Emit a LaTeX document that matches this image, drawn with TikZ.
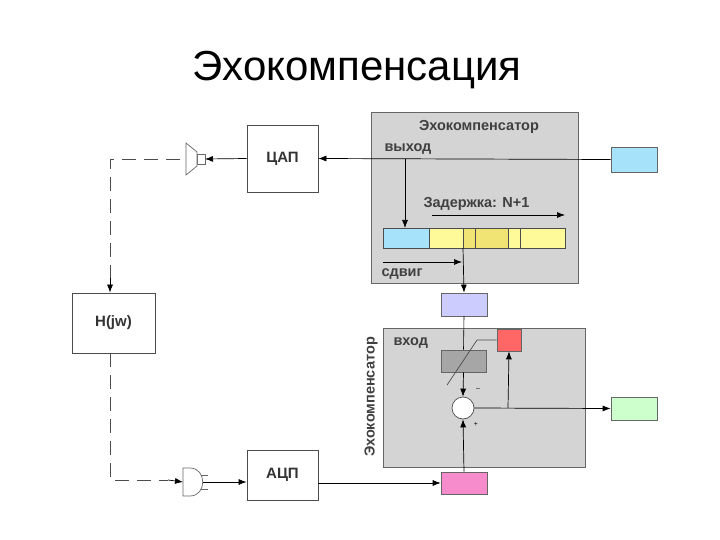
\documentclass[tikz,border=0pt]{standalone}
\usepackage{fontspec}
\setmainfont{Liberation Sans}
\usetikzlibrary{arrows.meta}
\begin{document}
\begin{tikzpicture}[x=1pt,y=-1pt,
 box/.style={draw=black!70,line width=0.8pt,fill=white,font=\bfseries\fontsize{15}{16}\selectfont,text=black!80},
 panel/.style={draw=black!60,line width=0.9pt,fill=black!17},
 sm/.style={draw=black!60,line width=0.7pt},
 ar/.style={-{Latex[length=8pt,width=6pt]},line width=0.7pt},
 lbl/.style={font=\bfseries\fontsize{14.5}{16}\selectfont,text=black!75},
 dsh/.style={dash pattern=on 14pt off 8pt,line width=0.8pt,draw=black!70}]
\useasboundingbox (0,0) rectangle (720,540);
\node at (357,70) {\fontsize{42}{46}\selectfont Эхокомпенсация};
% upper panel
\draw[panel] (371,112) rectangle (578,283);
\node[lbl] at (479,127) {Эхокомпенсатор};
\node[lbl,anchor=west] at (381,149) {выход};
\node[lbl,anchor=west] at (420,204) {Задержка: N+1};
\node[lbl,anchor=west] at (378,274) {сдвиг};
\node[sm,fill=cyan!35,minimum width=46pt,minimum height=25pt,inner sep=0] (in) at (634,159.5) {};
\node[box,minimum width=71pt,minimum height=67pt,inner sep=0] (dac) at (282.5,158.5) {ЦАП};
\draw[ar] (in.west) -- (dac.east);
\fill[cyan!35] (383,228) rectangle (429,248);
\fill[yellow!40] (429,228) rectangle (565,248);
\fill[brown!35!yellow!60] (463,228) rectangle (508,248);
\draw[black!70,line width=0.7pt] (383,228) rectangle (565,248);
\foreach \x in {429,463,475,508,520} \draw[black!70,line width=0.6pt] (\x,228) -- (\x,248);
\coordinate (bufin) at (405,228);
\draw[ar] (405,159.5) -- (bufin);
\draw[ar] (432,215) -- (565,215);
\draw[ar] (383,262) -- (462,262);
% lower panel
\node[sm,fill=blue!20,minimum width=46pt,minimum height=23pt,inner sep=0] (lav) at (464,304.5) {};
\draw[ar] (463,248) -- (lav.north);
\draw[panel] (383,328) rectangle (585,467);
\node[lbl,rotate=90] at (371,397) {Эхокомпенсатор};
\node[lbl,anchor=west] at (390,343) {вход};
\node[sm,fill=black!35,minimum width=45pt,minimum height=22pt,inner sep=0] (flt) at (463.5,361) {};
\node[sm,fill=red!60,minimum width=24pt,minimum height=22pt,inner sep=0] (err) at (509,340) {};
\node[draw=black!70,fill=white,circle,minimum size=22pt,inner sep=0,line width=0.7pt] (sum) at (463,408) {};
\node[sm,fill=green!20,minimum width=46pt,minimum height=23pt,inner sep=0] (out) at (634,408.5) {};
\node[sm,fill=magenta!45,minimum width=46pt,minimum height=22pt,inner sep=0] (mic) at (464,483) {};
\draw[line width=0.6pt] (lav.south) -- (flt.north);
\draw[ar] (flt.south) -- (sum.north);
\draw[line width=0.7pt,black!70] (447,385) -- (477,340) -- (err.west);
\draw[ar] (mic.north) -- (sum.south);
\draw[ar] (sum.east) -- (out.west);
\draw[ar] (508,408) -- (err.south);
\node[font=\scriptsize] at (478,389) {--};
\node[font=\scriptsize] at (476,424) {+};
% left part
\node[box,minimum width=71pt,minimum height=50pt,inner sep=0] (adc) at (282.5,475) {АЦП};
\node[box,minimum width=83pt,minimum height=60pt,inner sep=0] (h) at (113.5,323) {H(jw)};
\draw[ar] (adc.east |- 0,483) -- (mic.west);
% speaker
\coordinate (spk) at (205,159);
\draw[sm,fill=white] (197,154) rectangle (205,164);
\draw[sm,fill=white] (186,143) -- (197,152) -- (197,166) -- (186,175) -- cycle;
\draw[ar] (dac.west) -- (spk);
% microphone
\coordinate (mc) at (183,482);
\draw[sm,fill=white] (183,468) -- (190,468) .. controls (207,468) and (207,496) .. (190,496) -- (183,496) -- cycle;
\draw[sm] (201,475) -- (208,475) (201,489) -- (208,489);
\draw[ar] (203,482) -- (adc.west |- 0,482);
\draw[dsh] (180,159) -- (110,159) -- (110,278);
\draw[ar] (110,278) -- (h.north -| 110,0);
\draw[dsh] (110,353) -- (110,480) -- (168,480);
\draw[ar] (168,480) -- (mc);
\end{tikzpicture}
\end{document}
